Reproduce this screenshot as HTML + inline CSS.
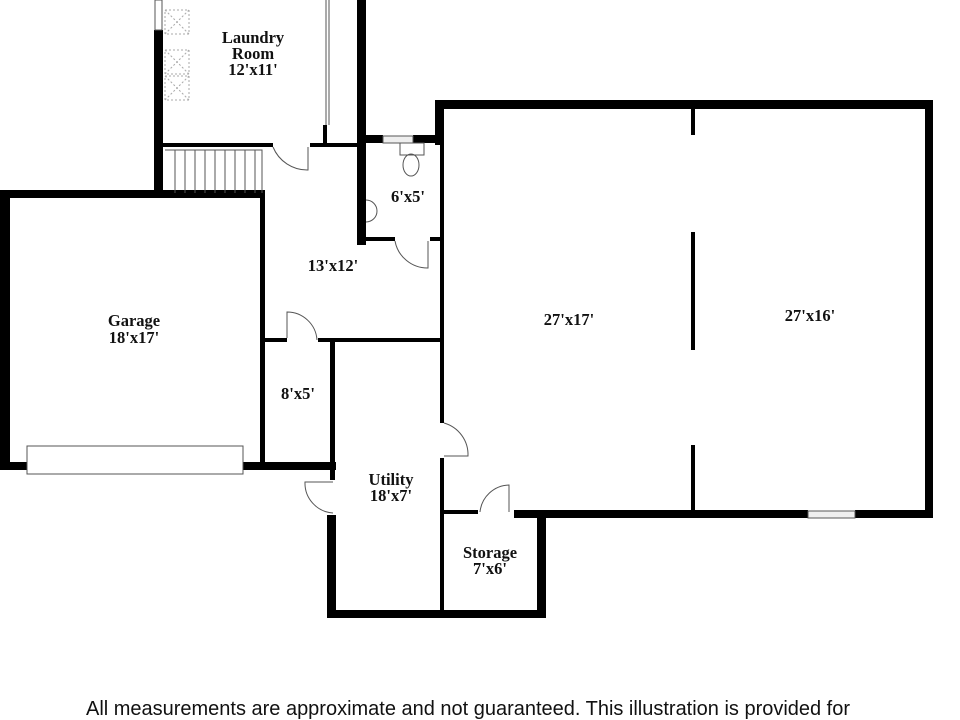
<!DOCTYPE html>
<html><head><meta charset="utf-8"><style>
body{margin:0;background:#fff;width:960px;height:720px;overflow:hidden}
svg{display:block}
.t{font-family:"Liberation Serif",serif;font-weight:bold;font-size:16.5px;fill:#111;text-anchor:middle}
</style></head><body>
<svg width="960" height="720" viewBox="0 0 960 720">
<g fill="#000">
<rect x="154" y="30" width="9" height="162"/>
<rect x="357" y="0" width="9" height="145"/>
<rect x="163" y="143" width="110" height="4"/>
<rect x="310" y="143" width="56" height="4"/>
<rect x="323" y="125" width="4" height="20"/>
<rect x="0" y="190" width="265" height="8"/>
<rect x="0" y="190" width="10" height="280"/>
<rect x="260" y="193" width="5" height="275"/>
<rect x="0" y="462" width="27" height="8"/>
<rect x="243" y="462" width="93" height="8"/>
<rect x="357" y="135" width="9" height="110"/>
<rect x="366" y="135" width="17" height="8"/>
<rect x="413" y="135" width="30" height="8"/>
<rect x="357" y="237" width="38" height="4"/>
<rect x="430" y="237" width="12" height="4"/>
<rect x="435" y="100" width="498" height="9"/>
<rect x="435" y="100" width="9" height="45"/>
<rect x="440" y="140" width="4" height="283"/>
<rect x="440" y="458" width="4" height="155"/>
<rect x="925" y="100" width="8" height="418"/>
<rect x="540" y="510" width="268" height="8"/>
<rect x="855" y="510" width="78" height="8"/>
<rect x="691" y="109" width="4" height="26"/>
<rect x="691" y="232" width="4" height="118"/>
<rect x="691" y="445" width="4" height="67"/>
<rect x="263" y="338" width="24" height="4"/>
<rect x="318" y="338" width="124" height="4"/>
<rect x="330" y="340" width="5" height="140"/>
<rect x="327" y="515" width="9" height="103"/>
<rect x="327" y="610" width="219" height="8"/>
<rect x="444" y="510" width="34" height="4"/>
<rect x="514" y="510" width="32" height="8"/>
<rect x="537" y="510" width="9" height="108"/>
</g>
<g fill="none" stroke="#555" stroke-width="1">
<rect x="27" y="446" width="216" height="28" fill="#fff"/>
<rect x="383" y="136" width="30" height="7" fill="#eee"/>
<rect x="808" y="511" width="47" height="7" fill="#eee"/>
<rect x="155" y="0" width="7" height="30"/>
<path d="M273 147 A37 37 0 0 0 308 170 V147"/>
<path d="M395 241 A33 33 0 0 0 428 268 V241"/>
<path d="M287 338 V312 A30 30 0 0 1 317 340"/>
<path d="M444 423 A33 33 0 0 1 468 456 H444"/>
<path d="M333 482 H305 A30 30 0 0 0 333 513"/>
<path d="M480 512 A30 30 0 0 1 509 485 V512"/>
<path d="M326 0 V57 M329 0 V125 M326 57 V125"/>
<path d="M165 150 H262 V193 M175 150 V193 M185 150 V193 M195 150 V193 M205 150 V193 M215 150 V193 M225 150 V193 M235 150 V193 M245 150 V193 M255 150 V193"/>
<ellipse cx="411" cy="165" rx="8" ry="11"/>
<rect x="400" y="143" width="24" height="12"/>
<path d="M366 200 A10 10 0 0 1 366 222"/>
</g>
<g fill="none" stroke="#aaa" stroke-dasharray="2 2">
<rect x="165" y="10" width="24" height="24"/><path d="M165 10 L189 34 M189 10 L165 34"/>
<rect x="165" y="50" width="24" height="24"/><path d="M165 50 L189 74 M189 50 L165 74"/>
<rect x="165" y="76" width="24" height="24"/><path d="M165 76 L189 100 M189 76 L165 100"/>
</g>
<text class="t" x="253" y="43">Laundry</text>
<text class="t" x="253" y="59">Room</text>
<text class="t" x="253" y="75">12'x11'</text>
<text class="t" x="408" y="202">6'x5'</text>
<text class="t" x="333" y="271">13'x12'</text>
<text class="t" x="134" y="326">Garage</text>
<text class="t" x="134" y="343">18'x17'</text>
<text class="t" x="298" y="399">8'x5'</text>
<text class="t" x="569" y="325">27'x17'</text>
<text class="t" x="810" y="321">27'x16'</text>
<text class="t" x="391" y="485">Utility</text>
<text class="t" x="391" y="501">18'x7'</text>
<text class="t" x="490" y="558">Storage</text>
<text class="t" x="490" y="574">7'x6'</text>
<text x="86" y="715" font-family="Liberation Sans,sans-serif" font-size="20" fill="#111" textLength="764" lengthAdjust="spacingAndGlyphs">All measurements are approximate and not guaranteed. This illustration is provided for</text>
<text x="78" y="736" font-family="Liberation Sans,sans-serif" font-size="20" fill="#111" textLength="810" lengthAdjust="spacingAndGlyphs">marketing and promotional purposes only. All information should be verified by the purchaser. © PlanOmatic</text>
</svg>
</body></html>
